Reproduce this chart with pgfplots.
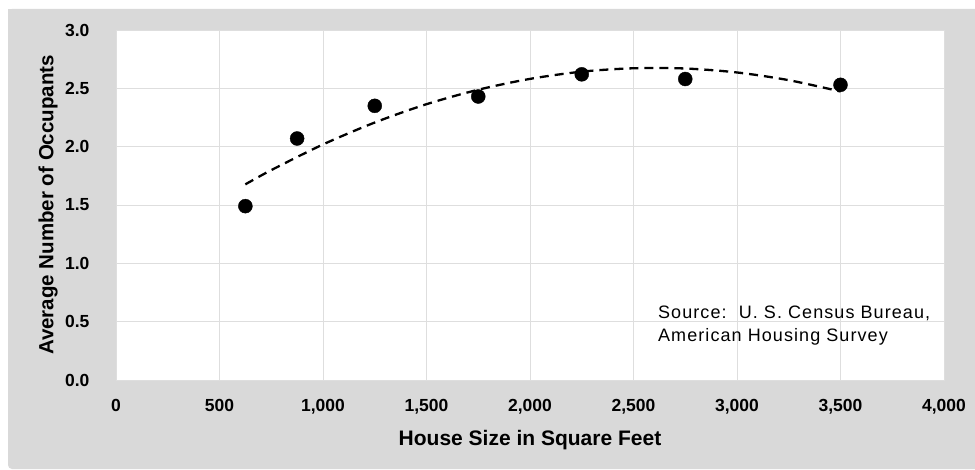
\documentclass[border=0pt]{standalone}
\usepackage{fontspec}
\setmainfont{Liberation Sans}
\newfontfamily\srcfont[LetterSpace=6]{Liberation Sans}
\usepackage{pgfplots}
\pgfplotsset{compat=1.18}
\definecolor{bggray}{HTML}{D9D9D9}
\definecolor{gridgray}{HTML}{DEDEDE}
\begin{document}
\begin{tikzpicture}[x=1pt,y=1pt]
\useasboundingbox (0,0) rectangle (975,469);
\fill[bggray, rounded corners=4pt] (8,0) rectangle (990,460);
\fill[bggray] (8,100) rectangle (975,460);
\begin{axis}[
  at={(116pt,89pt)}, anchor=south west,
  scale only axis, width=828pt, height=350pt,
  xmin=0, xmax=4000, ymin=0, ymax=3,
  axis background/.style={fill=white},
  xtick={0,500,...,4000},
  ytick={0,0.5,...,3.0},
  grid=major,
  major grid style={gridgray, line width=0.9pt},
  axis line style={draw=gridgray, line width=0.9pt},
  major tick length=0pt,
  /pgf/number format/assume math mode=true,
  xticklabel style={font=\fontsize{17.5}{19}\selectfont\bfseries, anchor=north, yshift=-16pt,
    /pgf/number format/.cd, 1000 sep={,}},
  yticklabel style={font=\fontsize{17.5}{19}\selectfont\bfseries, anchor=east, xshift=-23pt,
    /pgf/number format/.cd, fixed, fixed zerofill, precision=1},
  xlabel={House Size in Square Feet},
  ylabel={Average Number of Occupants},
  xlabel style={font=\fontsize{21}{23}\selectfont\bfseries, at={(axis description cs:0.5,-0.171)}, anchor=center},
  ylabel style={font=\fontsize{20.5}{23}\selectfont\bfseries, at={(axis description cs:-0.0821,0.5)}, anchor=center},
  clip=false,
]
% quadratic trendline
\addplot[black, line width=2.3pt, dash pattern=on 9pt off 6pt, smooth] coordinates {
(625,1.677) (750,1.799) (1000,2.019) (1250,2.207) (1500,2.364) (1750,2.488)
(2000,2.581) (2250,2.643) (2500,2.672) (2750,2.670) (3000,2.636) (3250,2.570) (3500,2.473)};
% data points
\addplot[only marks, mark=*, mark size=7pt, black] coordinates {
(625,1.49) (875,2.07) (1250,2.35) (1750,2.43) (2250,2.62) (2750,2.58) (3500,2.53)};
\node[anchor=north west, align=left, font=\srcfont\fontsize{18}{23}\selectfont, inner sep=0pt]
  at (axis cs:2618,0.635) {Source:\ \ U. S. Census Bureau,\\American Housing Survey};
\end{axis}
\end{tikzpicture}
\end{document}
